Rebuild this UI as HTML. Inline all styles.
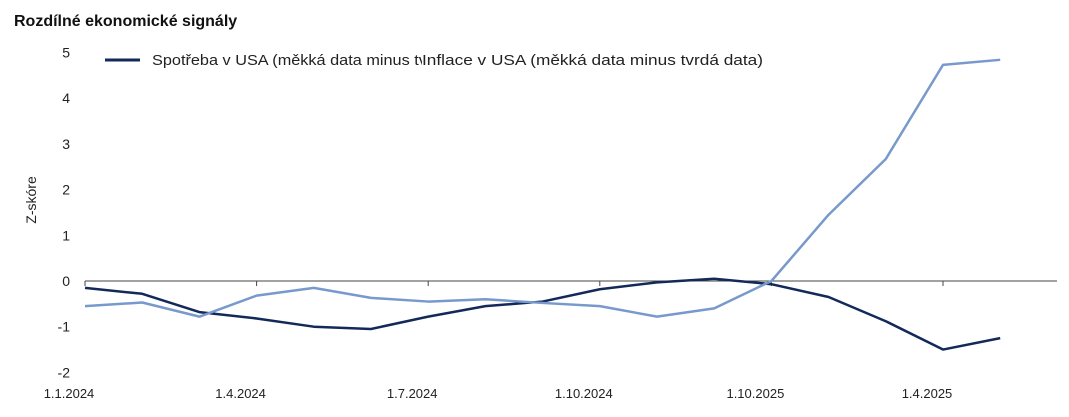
<!DOCTYPE html>
<html><head><meta charset="utf-8"><style>
body{margin:0;background:#fff;width:1069px;height:412px;overflow:hidden;font-family:"Liberation Sans",sans-serif}
</style></head><body>
<svg width="1069" height="412" xmlns="http://www.w3.org/2000/svg">
<text x="14" y="26" font-size="16" font-weight="bold" fill="#111">Rozdílné ekonomické signály</text>
<g id="axes"></g>
<g id="series"></g>
<g>
<defs><clipPath id="lc"><rect x="150" y="40" width="272" height="40"/></clipPath></defs>
<line x1="105" y1="60" x2="140" y2="60" stroke="#13295a" stroke-width="3"/>
<text x="152" y="65" font-size="15" fill="#222" clip-path="url(#lc)" textLength="340" lengthAdjust="spacingAndGlyphs">Spotřeba v USA (měkká data minus tvrdá data)</text>
<text x="422" y="65" font-size="15" fill="#222" textLength="341" lengthAdjust="spacingAndGlyphs">Inflace v USA (měkká data minus tvrdá data)</text>
</g>
<text transform="translate(36,200) rotate(-90)" text-anchor="middle" font-size="14" fill="#222">Z-skóre</text>
</svg>
<script>
const consumption=[-0.15,-0.28,-0.68,-0.82,-1.0,-1.05,-0.78,-0.55,-0.45,-0.18,-0.03,0.05,-0.07,-0.35,-0.88,-1.5,-1.25];
const inflation=[-0.55,-0.47,-0.78,-0.32,-0.15,-0.37,-0.45,-0.4,-0.48,-0.55,-0.78,-0.6,0.0,1.45,2.67,4.73,4.84];
const yTicks=[5,4,3,2,1,0,-1,-2];
const xLabels=["1.1.2024","1.4.2024","1.7.2024","1.10.2024","1.10.2025","1.4.2025"];
const NS="http://www.w3.org/2000/svg";
const x0=85,step=57.2,yZero=281,unit=45.7;
const X=i=>x0+i*step, Y=v=>yZero-v*unit;
const ax=document.getElementById('axes'), se=document.getElementById('series');
function mk(t,a,p){const e=document.createElementNS(NS,t);for(const k in a)e.setAttribute(k,a[k]);p.appendChild(e);return e;}
yTicks.forEach(v=>{const t=mk('text',{x:70,y:Y(v)+5,'text-anchor':'end','font-size':14,fill:'#222'},ax);t.textContent=v;

});
const xl=mk('line',{x1:x0,y1:yZero,x2:1057,y2:yZero,stroke:'#444'},ax);


xLabels.forEach((l,i)=>{const xx=X(i*3);
const tk=mk('line',{x1:xx,y1:yZero,x2:xx,y2:yZero+5,stroke:'#444'},ax);


const t=mk('text',{x:xx-16,y:398,'text-anchor':'middle','font-size':13,fill:'#222'},ax);t.textContent=l;

});
function line(d,c,n){const p=mk('polyline',{points:d.map((v,i)=>X(i)+','+Y(v)).join(' '),fill:'none',stroke:c,'stroke-width':2.5,'stroke-linejoin':'round'},se);

}
line(consumption,'#13295a','line-consumption');
line(inflation,'#7899cc','line-inflation');
</script>
</body></html>
